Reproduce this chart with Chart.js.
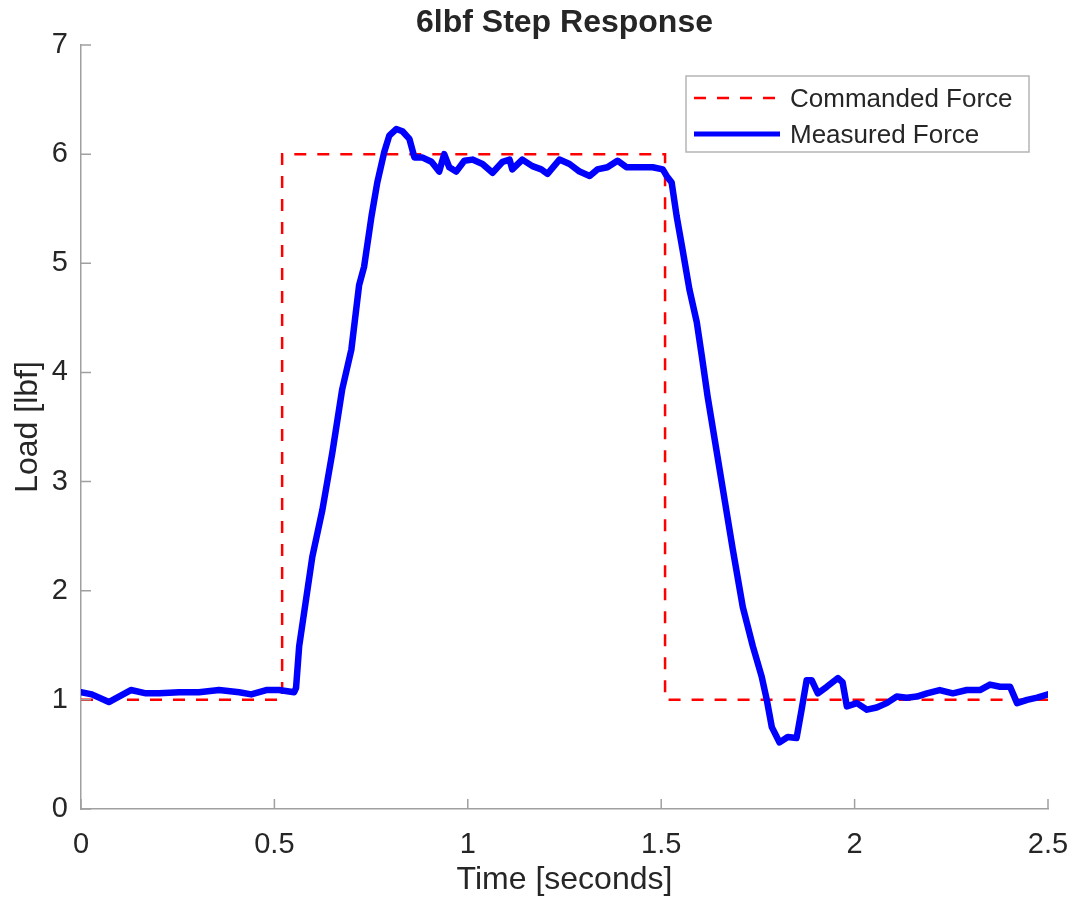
<!DOCTYPE html>
<html>
<head>
<meta charset="utf-8">
<script src="https://cdn.jsdelivr.net/npm/chart.js@4.4.1/dist/chart.umd.min.js"></script>
<style>
  body { margin: 0; background: #fff; }
  #wrap { width: 1075px; height: 905px; }
</style>
</head>
<body>
<div id="wrap"><canvas id="stepChart" width="1075" height="905"></canvas></div>
<script>
// step command (seconds / lbf)
const cmdTime = [0, 0.52, 0.52, 1.51, 1.51, 2.5];
const cmdLoad = [1, 1, 6, 6, 1, 1];

// load cell reading
const time = [0.000,0.028,0.072,0.098,0.129,0.168,0.202,0.254,0.305,0.357,
  0.409,0.440,0.479,0.512,0.551,0.556,0.564,0.598,0.624,0.650,
  0.675,0.699,0.719,0.732,0.751,0.766,0.784,0.797,0.815,0.831,
  0.849,0.862,0.882,0.906,0.926,0.939,0.952,0.970,0.991,1.012,
  1.038,1.064,1.090,1.108,1.115,1.141,1.167,1.190,1.206,1.237,
  1.263,1.289,1.315,1.335,1.361,1.387,1.410,1.444,1.478,1.504,
  1.516,1.527,1.540,1.555,1.573,1.592,1.605,1.620,1.685,1.711,
  1.737,1.760,1.773,1.786,1.806,1.827,1.850,1.863,1.876,1.889,
  1.905,1.928,1.957,1.969,1.980,2.006,2.032,2.057,2.083,2.109,
  2.135,2.161,2.187,2.220,2.254,2.290,2.324,2.350,2.376,2.402,
  2.420,2.446,2.472,2.500];
const measured = [1.07,1.05,0.98,1.03,1.09,1.06,1.06,1.07,1.07,1.09,
  1.07,1.05,1.09,1.09,1.07,1.11,1.49,2.31,2.74,3.27,
  3.84,4.21,4.80,4.97,5.43,5.74,6.02,6.17,6.23,6.21,
  6.14,5.97,5.97,5.93,5.84,6.00,5.88,5.84,5.94,5.95,
  5.91,5.83,5.93,5.95,5.86,5.95,5.89,5.86,5.82,5.95,
  5.91,5.84,5.80,5.86,5.88,5.94,5.88,5.88,5.88,5.86,
  5.79,5.74,5.43,5.13,4.76,4.46,4.15,3.78,2.38,1.85,
  1.49,1.21,1.00,0.75,0.61,0.66,0.65,0.91,1.18,1.18,
  1.06,1.12,1.20,1.16,0.94,0.97,0.91,0.93,0.97,1.03,
  1.02,1.03,1.06,1.09,1.06,1.09,1.09,1.14,1.12,1.12,
  0.97,1.00,1.02,1.05];

const xTicks = [0, 0.5, 1, 1.5, 2, 2.5];
const yTicks = [0, 1, 2, 3, 4, 5, 6, 7];

const FONT = "'Liberation Sans', Arial, Helvetica, sans-serif";
const TEXT = '#262626';
const AXIS = '#a0a0a0';

const toXY = (xs, ys) => xs.map((x, i) => ({ x: x, y: ys[i] }));

// matlab style ticks pointing into the plot
const innerTicks = {
  id: 'innerTicks',
  afterDraw(chart) {
    const { ctx, chartArea, scales } = chart;
    ctx.save();
    ctx.strokeStyle = AXIS;
    ctx.lineWidth = 1.5;
    ctx.beginPath();
    xTicks.forEach(v => {
      const px = scales.x.getPixelForValue(v);
      ctx.moveTo(px, chartArea.bottom);
      ctx.lineTo(px, chartArea.bottom - 10);
    });
    yTicks.forEach(v => {
      const py = scales.y.getPixelForValue(v);
      ctx.moveTo(chartArea.left, py);
      ctx.lineTo(chartArea.left + 10, py);
    });
    ctx.stroke();
    ctx.restore();
  }
};

// boxed legend in the upper right corner
const boxLegend = {
  id: 'boxLegend',
  afterDraw(chart) {
    const { ctx, chartArea } = chart;
    const w = 343, h = 76;
    const left = chartArea.right - 19 - w;
    const top = chartArea.top + 31;
    ctx.save();
    ctx.fillStyle = '#fff';
    ctx.fillRect(left, top, w, h);
    ctx.strokeStyle = '#b5b5b5';
    ctx.lineWidth = 1.5;
    ctx.strokeRect(left, top, w, h);
    const rows = [top + 22, top + 58];
    chart.data.datasets.forEach((ds, i) => {
      const y = rows[i];
      ctx.beginPath();
      ctx.strokeStyle = ds.borderColor;
      ctx.lineWidth = i === 0 ? ds.borderWidth : 5;
      ctx.setLineDash(ds.borderDash || []);
      ctx.moveTo(left + 8, y);
      ctx.lineTo(left + 94, y);
      ctx.stroke();
      ctx.setLineDash([]);
      ctx.fillStyle = TEXT;
      ctx.font = '26px ' + FONT;
      ctx.textBaseline = 'middle';
      ctx.fillText(ds.label, left + 104, y + 2);
    });
    ctx.restore();
  }
};

new Chart(document.getElementById('stepChart'), {
  type: 'line',
  data: {
    datasets: [
      {
        label: 'Commanded Force',
        data: toXY(cmdTime, cmdLoad),
        borderColor: '#ff0000',
        borderWidth: 2.5,
        borderDash: [12, 11],
        pointRadius: 0,
        tension: 0,
        order: 1
      },
      {
        label: 'Measured Force',
        data: toXY(time, measured),
        borderColor: '#0000ff',
        borderWidth: 6.5,
        borderJoinStyle: 'round',
        borderCapStyle: 'round',
        pointRadius: 0,
        tension: 0,
        order: 0
      }
    ]
  },
  options: {
    responsive: false,
    animation: false,
    layout: { padding: { left: 0, right: 27, top: 0, bottom: 0 } },
    plugins: {
      legend: { display: false },
      tooltip: { enabled: false },
      title: {
        display: true,
        text: '6lbf Step Response',
        fullSize: false,
        color: TEXT,
        font: { family: FONT, size: 32, weight: 'bold' },
        padding: { top: 4, bottom: 2.6 }
      }
    },
    scales: {
      x: {
        type: 'linear',
        min: 0,
        max: 2.5,
        afterBuildTicks: s => { s.ticks = xTicks.map(v => ({ value: v })); },
        afterFit: s => { s.height = 96; s.paddingLeft = 0; s.paddingRight = 0; },
        grid: { drawOnChartArea: false, drawTicks: false },
        border: { display: true, color: AXIS, width: 1.5 },
        ticks: {
          color: TEXT,
          padding: 19,
          maxRotation: 0,
          font: { family: FONT, size: 29 },
          callback: v => String(v)
        },
        title: {
          display: true,
          text: 'Time [seconds]',
          color: TEXT,
          font: { family: FONT, size: 32 },
          padding: { top: 0, bottom: 6 }
        }
      },
      y: {
        type: 'linear',
        min: 0,
        max: 7,
        afterBuildTicks: s => { s.ticks = yTicks.map(v => ({ value: v })); },
        afterFit: s => { s.width = 81; },
        grid: { drawOnChartArea: false, drawTicks: false },
        border: { display: true, color: AXIS, width: 1.5 },
        ticks: { color: TEXT, padding: 13, font: { family: FONT, size: 29 }, callback: v => String(v) },
        title: {
          display: true,
          text: 'Load [lbf]',
          color: TEXT,
          font: { family: FONT, size: 32 },
          padding: { top: 9, bottom: 0 }
        }
      }
    }
  },
  plugins: [innerTicks, boxLegend]
});
</script>
</body>
</html>
